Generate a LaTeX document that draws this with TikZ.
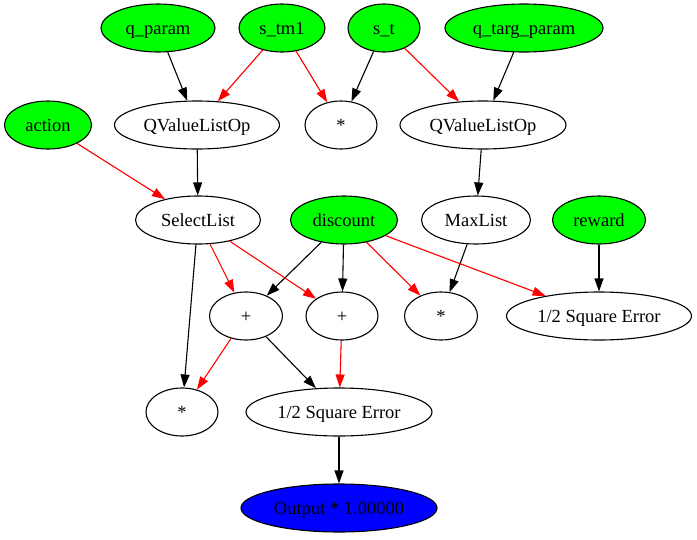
\documentclass[tikz,border=0pt]{standalone}
\usepackage{fontspec}
\setmainfont{Liberation Serif}
\usetikzlibrary{shapes.geometric,arrows.meta}
\definecolor{gvgreen}{RGB}{0,255,0}
\definecolor{gvblue}{RGB}{0,0,255}
\definecolor{gvred}{RGB}{255,0,0}
\begin{document}
\begin{tikzpicture}[x=1pt,y=-1pt,
  op/.style={ellipse,draw=black,line width=1.1pt,inner sep=0pt,
    minimum height=48pt,text height=12pt,text depth=0pt,
    font=\fontsize{18.5}{22}\selectfont},
  input/.style={op,fill=gvgreen},
  output/.style={op,fill=gvblue},
  flow/.style={line width=1.1pt,-{Triangle[length=13pt,width=9pt]}},
  grad/.style={flow,draw=gvred,fill=gvred}]
\useasboundingbox (0,0) rectangle (697,539);

% inputs
\node[input,minimum width=114pt] (qparam) at (158,28) {q\_param};
\node[input,minimum width=86pt]  (stm1)   at (282,28) {s\_tm1};
\node[input,minimum width=72pt]  (st)     at (384,28) {s\_t};
\node[input,minimum width=158pt] (qtarg)  at (524,28) {q\_targ\_param};
\node[input,minimum width=87pt]  (action) at (48,125) {action};

% second row
\node[op,minimum width=165pt] (qvl)   at (197,125) {QValueListOp};
\node[op,minimum width=72pt]  (mulA)  at (341,125) {*};
\node[op,minimum width=166pt] (qvlt)  at (483,125) {QValueListOp};

% third row
\node[op,minimum width=125pt]    (sel)      at (198,220) {SelectList};
\node[input,minimum width=107pt] (discount) at (344,220) {discount};
\node[op,minimum width=109pt]    (maxl)     at (476,220) {MaxList};
\node[input,minimum width=93pt]  (reward)   at (599,220) {reward};

% fourth row
\node[op,minimum width=73pt]  (addA) at (246,316) {+};
\node[op,minimum width=72pt]  (addB) at (342,316) {+};
\node[op,minimum width=73pt]  (mulB) at (441,316) {*};
\node[op,minimum width=185pt] (sqeA) at (599,316) {1/2 Square Error};

% fifth row
\node[op,minimum width=72pt]  (mulC) at (182,412) {*};
\node[op,minimum width=186pt] (sqeB) at (339,412) {1/2 Square Error};

% output
\node[output,minimum width=196pt] (out) at (339,508) {Output * 1.00000};

% black edges
\draw[flow] (qparam) -- (qvl);
\draw[flow] (st) -- (mulA);
\draw[flow] (qtarg) -- (qvlt);
\draw[flow] (qvl) -- (sel);
\draw[flow] (qvlt) -- (maxl);
\draw[flow] (sel) -- (mulC);
\draw[flow] (discount) -- (addA);
\draw[flow] (discount) -- (addB);
\draw[flow] (maxl) -- (mulB);
\draw[flow] (reward) -- (sqeA);
\draw[flow] (addA) -- (sqeB);
\draw[flow] (sqeB) -- (out);

% red edges
\draw[grad] (stm1) -- (qvl);
\draw[grad] (stm1) -- (mulA);
\draw[grad] (st) -- (qvlt);
\draw[grad] (action) -- (sel);
\draw[grad] (sel) -- (addA);
\draw[grad] (sel) -- (addB);
\draw[grad] (discount) -- (mulB);
\draw[grad] (discount) -- (sqeA);
\draw[grad] (addA) -- (mulC);
\draw[grad] (addB) -- (sqeB);
\end{tikzpicture}
\end{document}
